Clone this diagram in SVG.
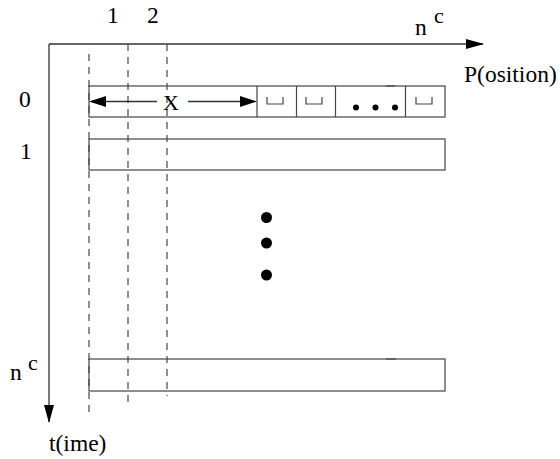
<svg xmlns="http://www.w3.org/2000/svg" width="560" height="459" viewBox="0 0 560 459">
<style>
.t{font-family:"Liberation Serif","DejaVu Serif","Times New Roman",serif;font-size:23.5px;fill:#000}
.s{font-size:22px}
.ax{stroke:#333;stroke-width:1.3;fill:none}
.box{stroke:#444;stroke-width:1.2;fill:none}
.dash{stroke:#555;stroke-width:1.3;stroke-dasharray:7,6;fill:none}
.cup{stroke:#444;stroke-width:1.2;fill:none}
</style>
<defs>
<marker id="ah" markerWidth="18" markerHeight="10" refX="17" refY="5" orient="auto" markerUnits="userSpaceOnUse">
<path d="M0,0 L18,5 L0,10 Z" fill="#000"/>
</marker>
</defs>
<g id="axes">
<line class="ax" x1="49" y1="44" x2="483" y2="44" marker-end="url(#ah)"/>
<line class="ax" x1="49" y1="44" x2="49" y2="422" marker-end="url(#ah)"/>
</g>
<g id="labels">
<text class="t" x="415" y="35">n</text><text class="t s" x="434" y="23">c</text>
<text class="t" x="464" y="82">P(osition)</text>
<text class="t" x="49" y="451">t(ime)</text>
<text class="t" x="10" y="380">n</text><text class="t s" x="28" y="370">c</text>
<text class="t" x="19" y="107">0</text>
<text class="t" x="20" y="159">1</text>
<text class="t" x="107" y="22.5">1</text>
<text class="t" x="147" y="22.5">2</text>
</g>
<g id="dashes">
<line class="dash" x1="89" y1="54" x2="89" y2="412"/>
<line class="dash" x1="128" y1="44" x2="128" y2="402"/>
<line class="dash" x1="167" y1="44" x2="167" y2="396"/>
</g>
<g id="row0">
<rect class="box" x="89" y="86" width="356" height="31"/>
<line class="box" x1="257" y1="86" x2="257" y2="117"/>
<line class="box" x1="296.5" y1="86" x2="296.5" y2="117"/>
<line class="box" x1="335.5" y1="86" x2="335.5" y2="117"/>
<line class="box" x1="405.5" y1="86" x2="405.5" y2="117"/>
<line stroke="#555" stroke-width="1.5" x1="386" y1="86" x2="395" y2="86"/>
<path class="cup" d="M267,97 V104 H283 V97"/>
<path class="cup" d="M306,97 V104 H322 V97"/>
<path class="cup" d="M416,97 V104 H432 V97"/>
<circle cx="356" cy="107.5" r="3"/>
<circle cx="375.5" cy="107.5" r="3"/>
<circle cx="395" cy="107.5" r="3"/>
<line class="ax" x1="92" y1="101.5" x2="157" y2="101.5"/>
<path d="M89,101.5 L106,96 L106,107 Z" fill="#000"/>
<text class="t s" x="163" y="110">X</text>
<line class="ax" x1="188" y1="101.5" x2="254" y2="101.5"/>
<path d="M257,101.5 L240,96 L240,107 Z" fill="#000"/>
</g>
<g id="row1">
<rect class="box" x="89" y="139" width="356" height="31"/>
</g>
<g id="rowN">
<rect class="box" x="89" y="359" width="356" height="32"/>
<line stroke="#555" stroke-width="1.5" x1="386" y1="359" x2="396" y2="359"/>
</g>
<g id="vdots">
<circle cx="266.5" cy="217.5" r="5.5"/>
<circle cx="266.5" cy="243" r="5.5"/>
<circle cx="266.5" cy="275" r="5.5"/>
</g>
</svg>
